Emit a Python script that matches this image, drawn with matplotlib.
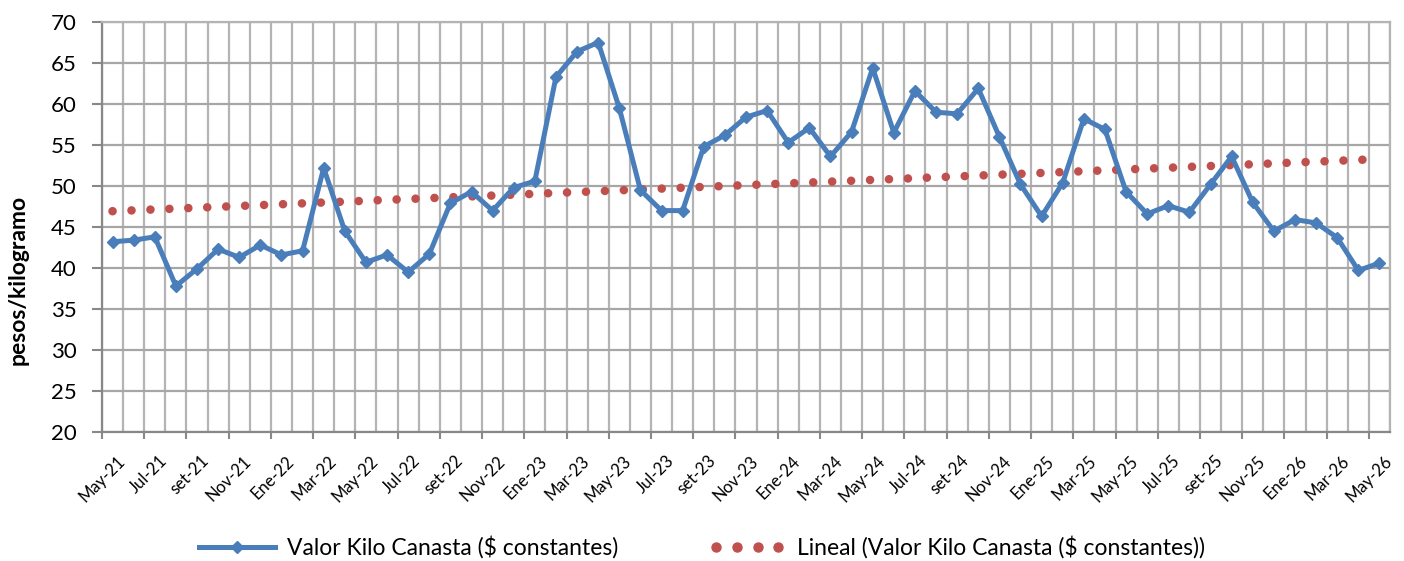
"""
valor kilo canasta ($ constantes), mensual may-21 a may-26, con tendencia lineal
"""

#%% import modules

import numpy as np
import matplotlib
matplotlib.use('Agg')
import matplotlib.pyplot as plt
import matplotlib as mpl
from matplotlib.transforms import ScaledTranslation
from matplotlib.lines import Line2D
from matplotlib.legend_handler import HandlerLine2D

#%% global plot settings

mpl.rcParams.update(mpl.rcParamsDefault)
plt.rcParams['font.family'] = ['Lato', 'DejaVu Sans']

#%% data

meses = ['May', 'Jun', 'Jul', 'Ago', 'set', 'Oct', 'Nov', 'Dic',
         'Ene', 'Feb', 'Mar', 'Abr']

# May-21 ... May-26 (61 months)
valor_kilo = [43.2, 43.4, 43.8, 37.8, 39.9, 42.3, 41.3, 42.8, 41.6, 42.1,
              52.2, 44.5, 40.7, 41.6, 39.5, 41.7, 47.9, 49.3, 47.0, 49.8,
              50.6, 63.3, 66.4, 67.5, 59.5, 49.5, 47.0, 47.0, 54.8, 56.2,
              58.4, 59.2, 55.3, 57.1, 53.6, 56.6, 64.4, 56.5, 61.6, 59.0,
              58.8, 61.9, 56.0, 50.2, 46.3, 50.4, 58.2, 56.9, 49.3, 46.6,
              47.6, 46.8, 50.2, 53.6, 48.0, 44.5, 45.9, 45.5, 43.7, 39.7,
              40.6]

label_serie = 'Valor Kilo Canasta (\\$ constantes)'
label_tend = 'Lineal (Valor Kilo Canasta (\\$ constantes))'

#%% calculations

n = len(valor_kilo)
idx = np.arange(n)

# month labels, starting May-21
etiquetas = []
for k in range(n):
    yy = 21 + (4 + k) // 12
    etiquetas.append('%s-%d' % (meses[k % 12], yy))

# linear trendline (as excel "Lineal")
coef = np.polyfit(idx, valor_kilo, 1)
tendencia = np.polyval(coef, idx)

#%% plot

fig = plt.figure(figsize=(14.04, 5.61), dpi=100)
ax = fig.add_axes([102/1404, 1-432/561, (1390-102)/1404, 410/561])

azul = '#4A7EBB'
rojo = '#C0504D'
gris = '#A6A6A6'

h1, = ax.plot(idx, valor_kilo, color=azul, linewidth=3.6, marker='D',
              markersize=6.5, zorder=4)
ax.plot(idx, tendencia, color=rojo, linewidth=6.2, linestyle=(0, (0.001, 2.2)),
        dash_capstyle='round', zorder=3)

#------------------------------------------------------------------------------
# axes

ax.set_xlim(-0.5, n - 0.5)
ax.set_ylim(20, 70)
ax.set_yticks(np.arange(20, 71, 5))

# category gridlines at every boundary
ax.set_xticks(np.arange(-0.5, n, 1.0), minor=True)
ax.set_xticks(idx[::2])
ax.set_xticklabels(etiquetas[::2], rotation=45, ha='right', va='top',
                   rotation_mode='anchor', fontsize=12)
ax.tick_params(axis='x', which='both', length=0, pad=15)
ax.tick_params(axis='y', length=7, width=1.5, color='#888888',
               labelsize=16, pad=11)

offset = ScaledTranslation(4/100, 0, fig.dpi_scale_trans)
for lbl in ax.get_xticklabels():
    lbl.set_transform(lbl.get_transform() + offset)

ax.grid(True, axis='x', which='minor', color='#B4B4B4', linewidth=1.6)
ax.grid(True, axis='y', which='major', color=gris, linewidth=1.6)
ax.set_axisbelow(True)

# tick marks every two months, at category boundaries
ax.vlines(np.arange(-0.5, n, 2.0), -0.018, 0, transform=ax.get_xaxis_transform(),
          color='#888888', linewidth=1.5, clip_on=False)

for s in ['top', 'right']:
    ax.spines[s].set_color('#B4B4B4')
    ax.spines[s].set_linewidth(1.6)
for s in ['left', 'bottom']:
    ax.spines[s].set_color('#888888')
    ax.spines[s].set_linewidth(1.6)

ax.set_ylabel('pesos/kilogramo', fontsize=16.5, fontweight='bold')
ax.yaxis.set_label_coords(-0.057, 0.37)

#------------------------------------------------------------------------------
# legend

h2 = Line2D([], [], color=rojo, linestyle='None', marker='o', markersize=6.5)
fig.legend([h1, h2], [label_serie, label_tend],
           handler_map={h1: HandlerLine2D(numpoints=1),
                        h2: HandlerLine2D(numpoints=4)},
           loc='center', bbox_to_anchor=(0.5, 0.024), ncol=2, frameon=False,
           fontsize=16.5, handlelength=3.3, columnspacing=4.0, handletextpad=0.5)

fig.savefig('out.png', dpi=100)
